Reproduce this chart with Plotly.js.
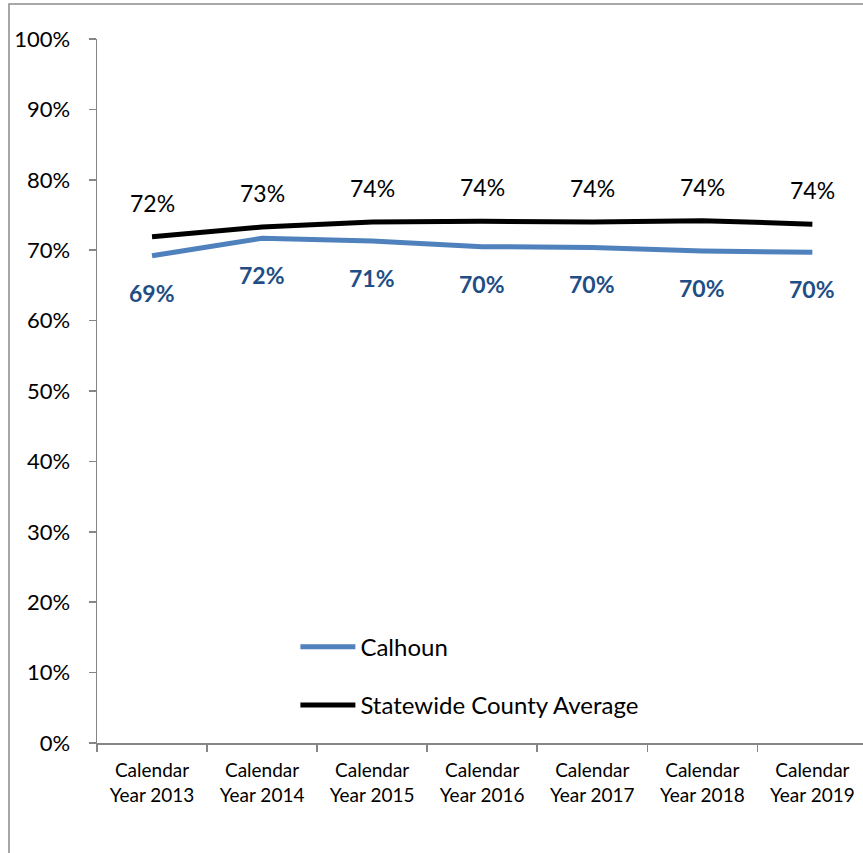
<!DOCTYPE html>
<html>
<head>
<meta charset="utf-8">
<script src="https://cdn.plot.ly/plotly-3.0.1.min.js"></script>
<style>html,body{margin:0;padding:0;background:#fff;overflow:hidden}</style>
</head>
<body>
<div id="chart" style="width:863px;height:853px"></div>
<script>
const categories = ["Calendar<br>Year 2013","Calendar<br>Year 2014","Calendar<br>Year 2015","Calendar<br>Year 2016","Calendar<br>Year 2017","Calendar<br>Year 2018","Calendar<br>Year 2019"];
const calhoun = [69.2, 71.7, 71.3, 70.5, 70.4, 69.9, 69.7];
const statewide = [71.9, 73.3, 74.0, 74.1, 74.0, 74.2, 73.7];
const calhounLabels = ["69%","72%","71%","70%","70%","70%","70%"];
const statewideLabels = ["72%","73%","74%","74%","74%","74%","74%"];

const FONT = "Lato, 'Open Sans', sans-serif";
const BLUE = "#4F81BD";
const DARKBLUE = "#1F4E86";

const traces = [
  {x: categories, y: calhoun, name: "Calhoun", type: "scatter", mode: "lines",
   line: {color: BLUE, width: 5}, legendgroup: "a", hoverinfo: "skip"},
  {x: categories, y: statewide, name: "Statewide County Average", type: "scatter", mode: "lines",
   line: {color: "#000000", width: 5}, legendgroup: "b", hoverinfo: "skip"}
];

const annotations = [];
categories.forEach((c, i) => {
  annotations.push({x: c, y: statewide[i], text: statewideLabels[i], showarrow: false,
    yshift: 34, font: {family: FONT, size: 23, color: "#000"}});
  annotations.push({x: c, y: calhoun[i], text: "<b>" + calhounLabels[i] + "</b>", showarrow: false,
    yshift: -37, font: {family: FONT, size: 23, color: DARKBLUE}});
});

const layout = {
  width: 863, height: 853,
  margin: {l: 97, r: 0, t: 39, b: 110},
  paper_bgcolor: "#fff", plot_bgcolor: "#fff",
  font: {family: FONT, color: "#000"},
  showlegend: true,
  legend: {x: 0.259, y: 0.168, xanchor: "left", yanchor: "top",
    font: {family: FONT, size: 24, color: "#000"},
    traceorder: "grouped", tracegroupgap: 24, itemwidth: 55, bgcolor: "rgba(0,0,0,0)"},
  xaxis: {type: "category", range: [-0.5, 6.46], showgrid: false, showline: true,
    linecolor: "#868686", linewidth: 1.5, ticks: "outside", tickson: "boundaries",
    ticklen: 7, tickcolor: "#868686", tickwidth: 1.5, tickfont: {family: FONT, size: 19, color: "#000"},
    ticklabelstandoff: 10, zeroline: false, fixedrange: true},
  yaxis: {range: [0, 100], dtick: 10, ticksuffix: "%", showgrid: false, showline: true,
    linecolor: "#868686", linewidth: 1.5, ticks: "outside", ticklen: 7, tickcolor: "#868686",
    tickwidth: 1.5, tickfont: {family: FONT, size: 22, color: "#000"}, ticklabelstandoff: 14,
    zeroline: false, fixedrange: true},
  annotations: annotations,
  shapes: [{type: "rect", xref: "paper", yref: "paper", x0: -0.1149, x1: 1.3, y0: -0.3, y1: 1.0497,
    line: {color: "#8c8c8c", width: 1.5}, fillcolor: "rgba(0,0,0,0)", layer: "below"}]
};

Plotly.newPlot("chart", traces, layout, {displayModeBar: false, staticPlot: true});
</script>
</body>
</html>
